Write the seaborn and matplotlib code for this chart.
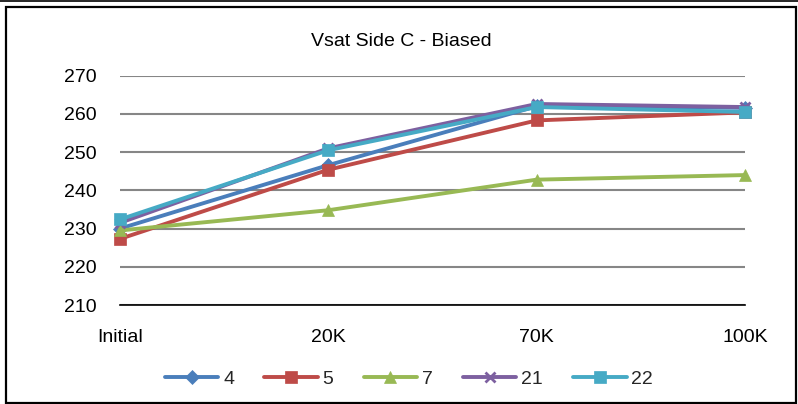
import pandas as pd
import seaborn as sns
import matplotlib.pyplot as plt
from matplotlib.patches import Rectangle
from matplotlib.lines import Line2D

categorias = ["Initial", "20K", "70K", "100K"]
serie_4 = [230.0, 246.6, 262.0, 261.6]
serie_5 = [227.3, 245.4, 258.3, 260.4]
serie_7 = [229.5, 234.8, 242.8, 244.0]
serie_21 = [231.5, 251.0, 262.6, 261.8]
serie_22 = [232.4, 250.5, 261.8, 260.5]
nomes = ["4", "5", "7", "21", "22"]
yticks = [210, 220, 230, 240, 250, 260, 270]

series = [serie_4, serie_5, serie_7, serie_21, serie_22]
cores = ["#4A7EBB", "#BE4B48", "#98B954", "#7D60A0", "#46AAC5"]
marcadores = ["D", "s", "^", "x", "s"]
tamanhos = [8, 10, 11, 9, 10]

sns.set_theme(style="white")
plt.rcParams["font.family"] = ["Liberation Sans", "DejaVu Sans"]

fig = plt.figure(figsize=(7.98, 4.04), dpi=100)
ax = fig.add_axes([120 / 798, 1 - 305 / 404, 625 / 798, (305 - 75.7) / 404])

for nome, vals, cor, m, ms in zip(nomes, series, cores, marcadores, tamanhos):
    sns.lineplot(x=categorias, y=vals, ax=ax, color=cor, marker=m, markersize=ms,
                 linewidth=2.8, markeredgecolor=cor, markeredgewidth=2 if m == "x" else 0.5,
                 clip_on=False, label=nome, sort=False)

ax.set_xlim(0, 3)
ax.set_ylim(210, 270)
ax.set_yticks(yticks)
ax.set_xticks(range(len(categorias)))
ax.set_xticklabels(categorias)
ax.grid(True, axis="y", color="#868686", linewidth=1.5)
ax.grid(False, axis="x")
for lado in ["top", "right", "left"]:
    ax.spines[lado].set_visible(False)
ax.spines["bottom"].set_color("black")
ax.spines["bottom"].set_linewidth(1.2)
ax.tick_params(axis="y", length=0, pad=17, labelsize=14, colors="black")
ax.tick_params(axis="x", length=0, pad=17, labelsize=14, colors="black")
ax.set_xlabel("")
ax.set_ylabel("")
ax.set_facecolor("white")

handles, labels = ax.get_legend_handles_labels()
ax.legend_.remove()
for h in handles:
    h.set_markersize(h.get_markersize() * 0.85)
fig.legend(handles, labels, loc="center", bbox_to_anchor=(409 / 798, 1 - 379 / 404),
           ncol=5, frameon=False, fontsize=14, handlelength=2.75, handletextpad=0.25,
           columnspacing=1.55)

fig.text(401 / 798, 1 - 42 / 404, "Vsat Side C - Biased", ha="center", va="center",
         fontsize=14, color="black")

# moldura do gráfico
fig.patches.append(Rectangle((6 / 798, 1 / 404), 790 / 798, 396 / 404, transform=fig.transFigure,
                             fill=False, edgecolor="black", linewidth=1.6))
fig.lines.append(Line2D([0, 1], [1 - 0.8 / 404] * 2, transform=fig.transFigure,
                        color="black", linewidth=1.2))

plt.savefig("out.png", dpi=100)
